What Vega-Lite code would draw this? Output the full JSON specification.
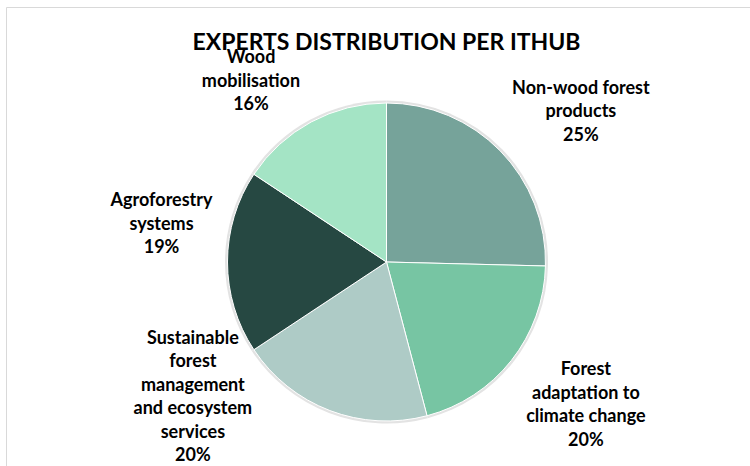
{
  "$schema": "https://vega.github.io/schema/vega-lite/v6.json",
  "autosize": "none",
  "width": 761,
  "height": 510,
  "padding": {"left": 6, "top": 7, "right": -17, "bottom": -51},
  "background": "white",
  "view": {"stroke": "#d9d9d9", "strokeWidth": 1},
  "title": {"text": "EXPERTS DISTRIBUTION PER ITHUB", "font": "Lato", "fontSize": 23, "fontWeight": "bold", "color": "#000000", "anchor": "middle", "frame": "group", "baseline": "alphabetic", "offset": -66, "orient": "top"},
  "data": {"values": [
    {"idx": 1, "category": "Non-wood forest products", "value": 25.4, "label": "Non-wood forest\nproducts\n25%"},
    {"idx": 2, "category": "Forest adaptation to climate change", "value": 20.5, "label": "Forest\nadaptation to\nclimate change\n20%"},
    {"idx": 3, "category": "Sustainable forest management and ecosystem services", "value": 19.8, "label": "Sustainable\nforest\nmanagement\nand ecosystem\nservices\n20%"},
    {"idx": 4, "category": "Agroforestry systems", "value": 18.6, "label": "Agroforestry\nsystems\n19%"},
    {"idx": 5, "category": "Wood mobilisation", "value": 15.7, "label": "Wood\nmobilisation\n16%"}
  ]},
  "encoding": {
    "theta": {"field": "value", "type": "quantitative", "stack": true},
    "order": {"field": "idx", "type": "quantitative"}
  },
  "layer": [
    {
      "mark": {"type": "arc", "outerRadius": 161.5, "fill": "#e3e3e3", "strokeWidth": 0}
    },
    {
      "mark": {"type": "arc", "outerRadius": 159, "stroke": "white", "strokeWidth": 1},
      "encoding": {
        "color": {"field": "category", "type": "nominal", "legend": null,
          "scale": {"domain": ["Non-wood forest products", "Forest adaptation to climate change", "Sustainable forest management and ecosystem services", "Agroforestry systems", "Wood mobilisation"],
                    "range": ["#76A39A", "#77C5A3", "#AECBC6", "#264842", "#A4E4C5"]}}
      }
    },
    {
      "mark": {"type": "text", "radius": 250.6, "dx": 15, "dy": 1.5, "font": "Lato", "fontSize": 18, "fontWeight": "bold", "lineBreak": "\n", "lineHeight": 23.5, "align": "center", "baseline": "middle", "color": "#000000"},
      "encoding": {"text": {"condition": {"test": "datum.idx === 1", "field": "label", "type": "nominal"}, "value": ""}}
    },
    {
      "mark": {"type": "text", "radius": 172.6, "dx": 64, "dy": 1, "font": "Lato", "fontSize": 18, "fontWeight": "bold", "lineBreak": "\n", "lineHeight": 23.5, "align": "center", "baseline": "middle", "color": "#000000"},
      "encoding": {"text": {"condition": {"test": "datum.idx === 2", "field": "label", "type": "nominal"}, "value": ""}}
    },
    {
      "mark": {"type": "text", "radius": 80.3, "dx": -165, "dy": 1.5, "font": "Lato", "fontSize": 18, "fontWeight": "bold", "lineBreak": "\n", "lineHeight": 23.5, "align": "center", "baseline": "middle", "color": "#000000"},
      "encoding": {"text": {"condition": {"test": "datum.idx === 3", "field": "label", "type": "nominal"}, "value": ""}}
    },
    {
      "mark": {"type": "text", "radius": 200, "dx": -25, "dy": -61, "font": "Lato", "fontSize": 18, "fontWeight": "bold", "lineBreak": "\n", "lineHeight": 23.5, "align": "center", "baseline": "middle", "color": "#000000"},
      "encoding": {"text": {"condition": {"test": "datum.idx === 4", "field": "label", "type": "nominal"}, "value": ""}}
    },
    {
      "mark": {"type": "text", "radius": 233.4, "dx": -25, "dy": 2, "font": "Lato", "fontSize": 18, "fontWeight": "bold", "lineBreak": "\n", "lineHeight": 23.5, "align": "center", "baseline": "middle", "color": "#000000"},
      "encoding": {"text": {"condition": {"test": "datum.idx === 5", "field": "label", "type": "nominal"}, "value": ""}}
    }
  ]
}
